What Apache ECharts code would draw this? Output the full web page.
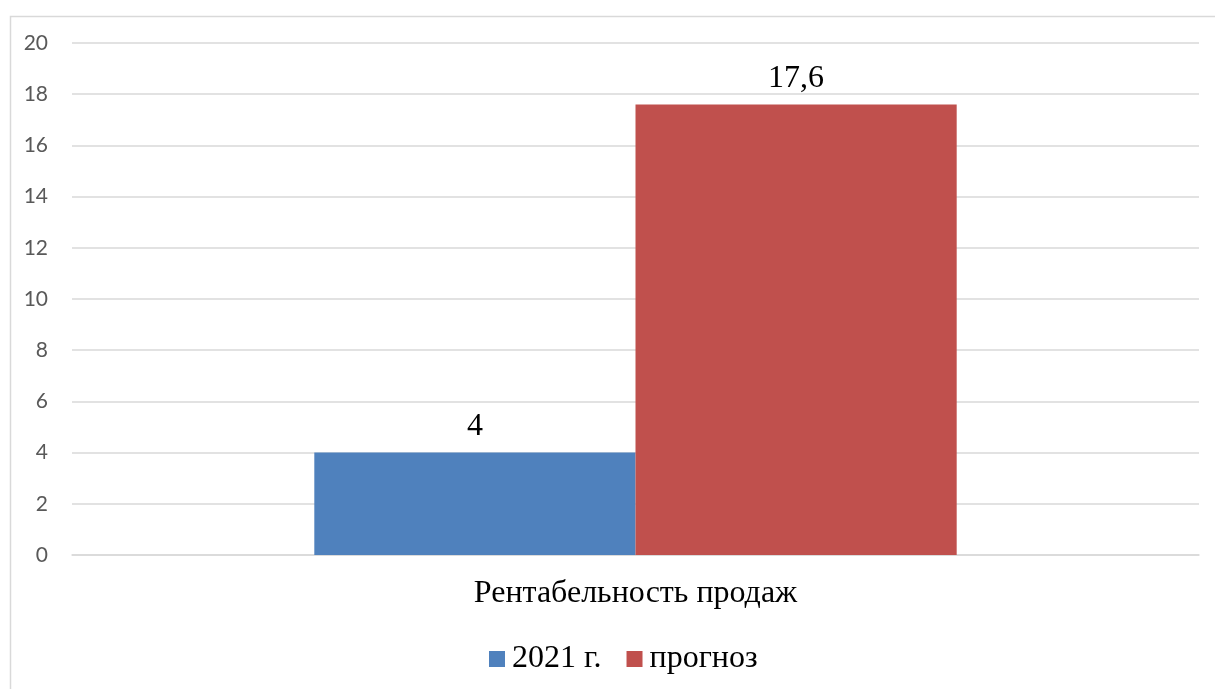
<!DOCTYPE html>
<html><head><meta charset="utf-8">
<script src="https://cdn.jsdelivr.net/npm/echarts@6/dist/echarts.min.js"></script>
<style>html,body{margin:0;padding:0;background:#fff}#c{width:1215px;height:689px}</style>
</head><body><div id="c"></div>
<script>
var categories = ['Рентабельность продаж'];
var seriesNames = ['2021 г.', 'прогноз'];
var values2021 = [4];
var valuesForecast = [17.6];
var colors = ['#4F81BD', '#C0504D'];

var chart = echarts.init(document.getElementById('c'));
function lbl(p){ return String(p.value).replace('.', ','); }
var serif = 'Liberation Serif';
chart.setOption({
  animation: false,
  graphic: [{type:'rect', left: 8, top: 14, shape:{width:1220, height:700}, style:{fill:'none', stroke:'#d9d9d9', lineWidth:1.5}, silent:true}],
  grid: {left: 72, right: 16, top: 43, bottom: 134, containLabel: false},
  legend: {
    data: seriesNames, left: 484, top: 638, itemWidth: 16, itemHeight: 16, itemGap: 25, icon: 'rect',
    textStyle: {fontFamily: serif, fontSize: 32, color: '#000', padding:[0,0,0,2]}
  },
  xAxis: {
    type: 'category', data: categories,
    axisLine: {show: true, lineStyle: {color: '#d9d9d9', width: 1.5}},
    axisTick: {show: false},
    axisLabel: {fontFamily: serif, fontSize: 32, color: '#000', margin: 23}
  },
  yAxis: {
    type: 'value', min: 0, max: 20, interval: 2,
    axisLine: {show: false}, axisTick: {show: false},
    splitLine: {lineStyle: {color: '#d9d9d9', width: 1.5}},
    axisLabel: {fontFamily: 'Lato', fontSize: 21, color: '#595959', margin: 24}
  },
  series: [
    {name: seriesNames[0], type: 'bar', data: values2021, barGap: '0%', barCategoryGap: '43%',
     itemStyle: {color: colors[0]},
     label: {show: true, position: 'top', distance: 10, formatter: lbl, fontFamily: serif, fontSize: 32, color: '#000'}},
    {name: seriesNames[1], type: 'bar', data: valuesForecast, barGap: '0%', barCategoryGap: '43%',
     itemStyle: {color: colors[1]},
     label: {show: true, position: 'top', distance: 10, formatter: lbl, fontFamily: serif, fontSize: 32, color: '#000'}}
  ]
});
</script></body></html>
